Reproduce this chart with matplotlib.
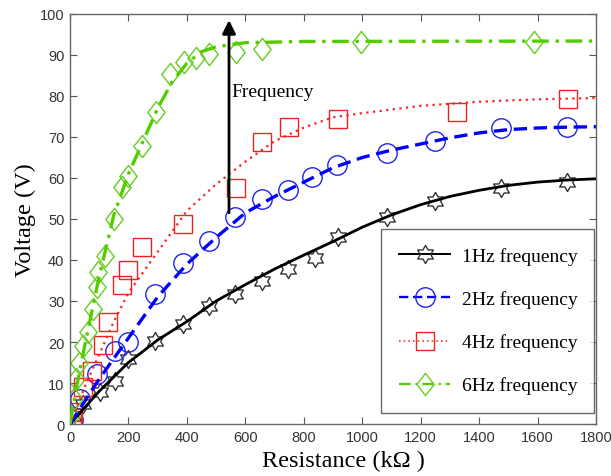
import numpy as np
import matplotlib
matplotlib.use("Agg")
import matplotlib.pyplot as plt
from matplotlib.path import Path
from matplotlib.lines import Line2D

# measured points (resistance in kOhm, voltage in V)
r_1hz = [10, 45, 103, 154, 198, 291, 387, 476, 565, 657, 746, 838, 917, 1085, 1249, 1475, 1700]
v_1hz = [2, 5, 7.8, 10.5, 15.9, 20.2, 24.4, 28.8, 31.7, 34.9, 37.8, 40.5, 45.6, 50.5, 54.4, 57.5, 59]

r_2hz = [10, 34, 92, 154, 198, 291, 387, 476, 565, 657, 746, 828, 914, 1085, 1249, 1475, 1700]
v_2hz = [1, 6, 12.2, 17.8, 20, 31.7, 39.3, 44.6, 50.5, 54.9, 57, 60.2, 63.2, 66, 69, 72.2, 72.4]

r_4hz = [7, 10, 45, 75, 113, 130, 178, 198, 246, 387, 568, 657, 749, 917, 1323, 1704]
v_4hz = [1.5, 3, 9, 13, 19.3, 24.9, 33.9, 37.6, 43.2, 48.8, 57.5, 68.8, 72.4, 74.4, 76.1, 79.3]

r_6hz = [5, 12, 20, 30, 45, 62, 78, 92, 96, 120, 150, 178, 198, 246, 294, 342, 390, 431, 476, 568, 657, 996, 1588]
v_6hz = [2, 6, 11, 15, 19, 22.5, 28, 33.5, 37, 41, 50, 57.8, 60.5, 67.8, 76.1, 85.4, 88.2, 89.2, 90.2, 90.8, 91.4, 93.2, 93.2]

# fitted curves
fit_r_1hz = [0, 50, 100, 200, 300, 400, 500, 600, 700, 800, 900, 1000, 1100, 1200, 1300, 1400, 1500, 1600, 1700, 1800]
fit_v_1hz = [0, 4, 8, 15, 20.5, 25, 30, 34, 37.8, 41.2, 44.5, 48, 51, 53.5, 55.5, 57, 58.2, 59, 59.5, 59.8]

fit_r_2hz = [0, 100, 200, 300, 400, 500, 600, 700, 800, 900, 1000, 1100, 1200, 1300, 1400, 1500, 1600, 1700, 1800]
fit_v_2hz = [0, 11, 21, 31, 39, 45.5, 51.5, 55.5, 59, 62.5, 65, 66.8, 68.3, 69.8, 71, 71.8, 72.2, 72.4, 72.5]

fit_r_4hz = [0, 50, 100, 150, 200, 300, 400, 500, 600, 700, 800, 900, 1000, 1200, 1400, 1600, 1800]
fit_v_4hz = [0, 9, 17, 25, 32, 42, 52, 58.5, 64, 69, 72.3, 74.8, 75.8, 77.6, 78.6, 79.2, 79.5]

fit_r_6hz = [0, 25, 50, 100, 150, 200, 250, 300, 350, 400, 450, 500, 600, 800, 1800]
fit_v_6hz = [0, 10, 19, 36, 51, 61, 69, 77, 83.5, 88, 90.8, 92, 93, 93.3, 93.4]

labels = ["1Hz frequency", "2Hz frequency", "4Hz frequency", "6Hz frequency"]

# six-pointed star outline (hexagram)
ang = np.deg2rad(90 + 30 * np.arange(12))
rad = np.where(np.arange(12) % 2 == 0, 1.0, 0.577)
verts = np.column_stack([rad * np.cos(ang), rad * np.sin(ang)])
verts = np.vstack([verts, verts[:1]])
hexagram = Path(verts, [Path.MOVETO] + [Path.LINETO] * 11 + [Path.CLOSEPOLY])

# slightly tall diamond
diamond = Path([(0, 1), (0.78, 0), (0, -1), (-0.78, 0), (0, 1)],
               [Path.MOVETO, Path.LINETO, Path.LINETO, Path.LINETO, Path.CLOSEPOLY])

plt.rcParams['font.family'] = ['Liberation Serif', 'DejaVu Serif']

fig = plt.figure(figsize=(6.11, 4.77), dpi=100)
ax = fig.add_axes([0.1146, 0.109, 0.861, 0.8596])

styles = [
    dict(color='black', ls='-', lw=2.0, marker=hexagram, ms=13, mc='#333333'),
    dict(color='#0000ff', ls=(0, (4, 2)), lw=2.4, marker='o', ms=14, mc='#2222ee'),
    dict(color='#ff2222', ls=(0, (1, 2)), lw=1.6, marker='s', ms=13, mc='#ee2222'),
    dict(color='#55cc00', ls=(0, (5, 2, 1, 2)), lw=2.4, marker=diamond, ms=16, mc='#66cc22'),
]

fits = [(fit_r_1hz, fit_v_1hz), (fit_r_2hz, fit_v_2hz), (fit_r_4hz, fit_v_4hz), (fit_r_6hz, fit_v_6hz)]
pts = [(r_1hz, v_1hz), (r_2hz, v_2hz), (r_4hz, v_4hz), (r_6hz, v_6hz)]

handles = []
for (fr, fv), (pr, pv), st, lab in zip(fits, pts, styles, labels):
    ax.plot(pr, pv, ls='none', marker=st['marker'], ms=st['ms'], mfc='none',
            mec=st['mc'], mew=1.0, zorder=2)
    ax.plot(fr, fv, color=st['color'], ls=st['ls'], lw=st['lw'], zorder=3)
    handles.append(Line2D([], [], color=st['color'], ls=st['ls'], lw=st['lw'] * 0.7,
                          marker=st['marker'], ms=st['ms'], mfc='none',
                          mec=st['mc'], mew=1.0))

# arrow showing increasing frequency
ax.annotate('', xy=(544, 98.5), xytext=(544, 51.5),
            arrowprops=dict(arrowstyle='-|>', color='black', lw=2,
                            mutation_scale=20, shrinkA=0, shrinkB=0), zorder=5)
ax.text(553, 81.2, 'Frequency', fontsize=14, va='center', ha='left')

ax.set_xlim(0, 1800)
ax.set_ylim(0, 100)
ax.set_xticks(np.arange(0, 1801, 200))
ax.set_yticks(np.arange(0, 101, 10))
ax.tick_params(direction='in', length=5, top=True, right=True, labelsize=10.5,
               colors='#555555', labelcolor='#333333', pad=4)
for lbl in ax.get_xticklabels() + ax.get_yticklabels():
    lbl.set_family(['Liberation Sans Narrow', 'Liberation Sans', 'DejaVu Sans'])
for sp in ax.spines.values():
    sp.set_color('#666666')
    sp.set_linewidth(1.0)

ax.set_xlabel('Resistance (kΩ )', fontsize=17.5, labelpad=1)
ax.xaxis.set_label_coords(0.52, -0.062)
ax.set_ylabel('Voltage (V)', fontsize=17.5, labelpad=3)

leg = ax.legend(handles, labels, loc='lower left',
                bbox_to_anchor=(0.591, 0.027, 0.405, 0.451), mode='expand',
                fontsize=14, frameon=True, fancybox=False, handlelength=2.6,
                labelspacing=1.3, borderpad=0.95, handletextpad=0.6, borderaxespad=0)
leg.get_frame().set_edgecolor('#444444')
leg.get_frame().set_linewidth(1.0)

fig.savefig('out.png', dpi=100)
